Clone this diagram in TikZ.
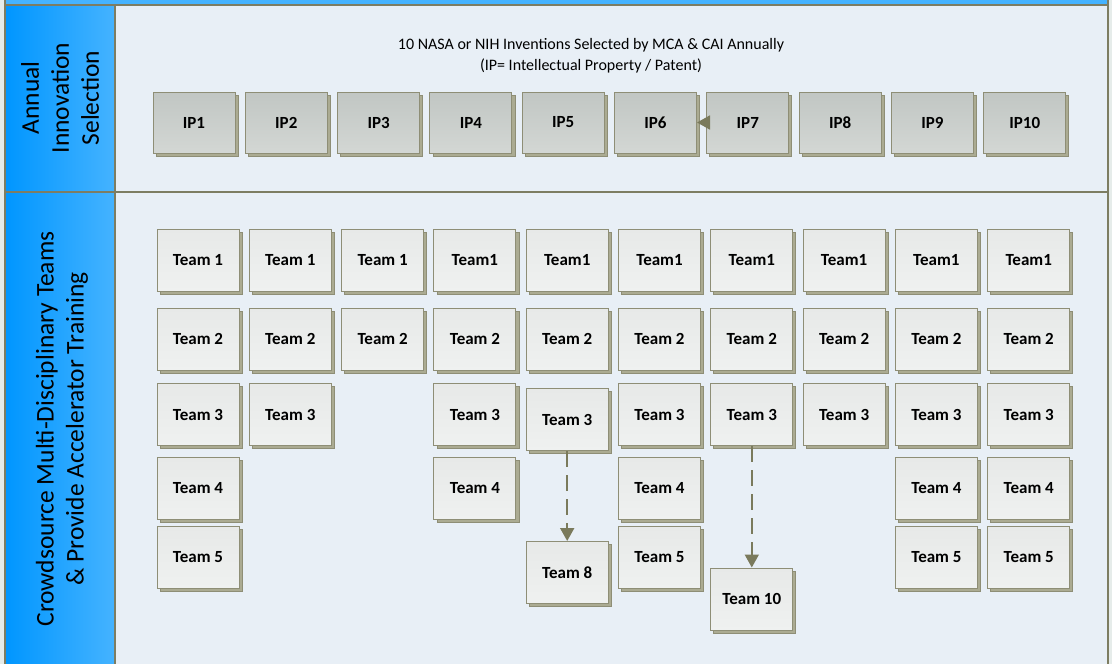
\documentclass[tikz,border=0pt]{standalone}
\usepackage{fontspec}
\setmainfont{Carlito}
\usetikzlibrary{arrows.meta,shadows}
\definecolor{pagebg}{HTML}{E6ECEA}
\definecolor{lanebg}{HTML}{E8EFF6}
\definecolor{bordc}{HTML}{7D7D62}
\definecolor{blueL}{HTML}{0096FF}
\definecolor{blueR}{HTML}{45B3FF}
\definecolor{boxd}{HTML}{8E8E76}
\definecolor{shadf}{HTML}{ABAB92}
\definecolor{arrc}{HTML}{7A7A5C}
\definecolor{ipT}{HTML}{C1C6C3}
\definecolor{ipB}{HTML}{D3D7D4}
\definecolor{tmT}{HTML}{E7E9E8}
\definecolor{tmB}{HTML}{EFF1F0}
\tikzset{
  boxbase/.style={rectangle, draw=boxd, line width=1pt, inner sep=0pt,
    minimum width=82pt, font=\fontsize{17}{20}\selectfont\bfseries,
    copy shadow={shadow xshift=3pt, shadow yshift=-3pt, fill=shadf, draw=boxd, line width=0.8pt}},
  ipbox/.style={boxbase, minimum height=61pt, top color=ipT, bottom color=ipB},
  teambox/.style={boxbase, minimum height=62pt, top color=tmT, bottom color=tmB},
  arr/.style={draw=arrc, line width=1.8pt, -{Triangle[width=14pt,length=13pt]}},
  dasharr/.style={arr, dash pattern=on 16pt off 8pt},
  lanehead/.style={rotate=90, align=center, font=\fontsize{25.5}{30}\selectfont},
  border/.style={draw=bordc, line width=2pt}
}
\begin{document}
\begin{tikzpicture}[x=1pt,y=-1pt]
\useasboundingbox (0,0) rectangle (1112,664);
\fill[pagebg] (0,0) rectangle (1112,664);
% lanes
\fill[blueR] (5,0) rectangle (1108,5);
\fill[lanebg] (115,5) rectangle (1108,192);
\fill[lanebg] (115,192) rectangle (1108,670);
\shade[left color=blueL, right color=blueR] (5,5) rectangle (115,192);
\shade[left color=blueL, right color=blueR] (5,192) rectangle (115,670);
\draw[border] (5,5) -- (1108,5);
\draw[border] (5,192) -- (1108,192);
\draw[border] (5,0) -- (5,664);
\draw[border] (115,5) -- (115,664);
\draw[border] (1108,0) -- (1108,664);
% lane headers
\node[lanehead] (h1) at (60,98) {Annual\\Innovation\\Selection};
\node[lanehead] (h2) at (62,429) {Crowdsource Multi-Disciplinary Teams\\\& Provide Accelerator Training};
% title
\node[font=\fontsize{16}{19}\selectfont] (t1) at (591,45) {10 NASA or NIH Inventions Selected by MCA \& CAI Annually};
\node[font=\fontsize{16}{19}\selectfont] (t2) at (591,66) {(IP= Intellectual Property / Patent)};
% IP boxes
\foreach \i in {1,...,10} {
  \node[ipbox] (ip\i) at ({194+92.3*(\i-1)},122.5) {IP\i};
}
\draw[arr] (ip7.west) -- (ip6.east);
% teams
\foreach \c/\lab in {1/Team 1,2/Team 1,3/Team 1,4/Team1,5/Team1,6/Team1,7/Team1,8/Team1,9/Team1,10/Team1} {
  \node[teambox] (rAc\c) at ({198+92.3*(\c-1)},260) {\lab};
}
\foreach \c in {1,...,10} {
  \node[teambox] (rBc\c) at ({198+92.3*(\c-1)},339) {Team 2};
}
\foreach \c in {1,2,4,6,7,8,9,10} {
  \node[teambox] (rCc\c) at ({198+92.3*(\c-1)},414.5) {Team 3};
}
\node[teambox] (rCc5) at ({198+92.3*4},419.5) {Team 3};
\foreach \c in {1,4,6,9,10} {
  \node[teambox] (rDc\c) at ({198+92.3*(\c-1)},488.5) {Team 4};
}
\foreach \c in {1,6,9,10} {
  \node[teambox] (rEc\c) at ({198+92.3*(\c-1)},557.5) {Team 5};
}
\node[teambox] (team8) at ({198+92.3*4},572.5) {Team 8};
\node[teambox] (team10) at ({198+92.3*6},599) {Team 10};
\draw[dasharr] (rCc5.south) -- (team8.north);
\draw[dasharr] (rCc7.south) -- (team10.north);
\end{tikzpicture}
\end{document}
